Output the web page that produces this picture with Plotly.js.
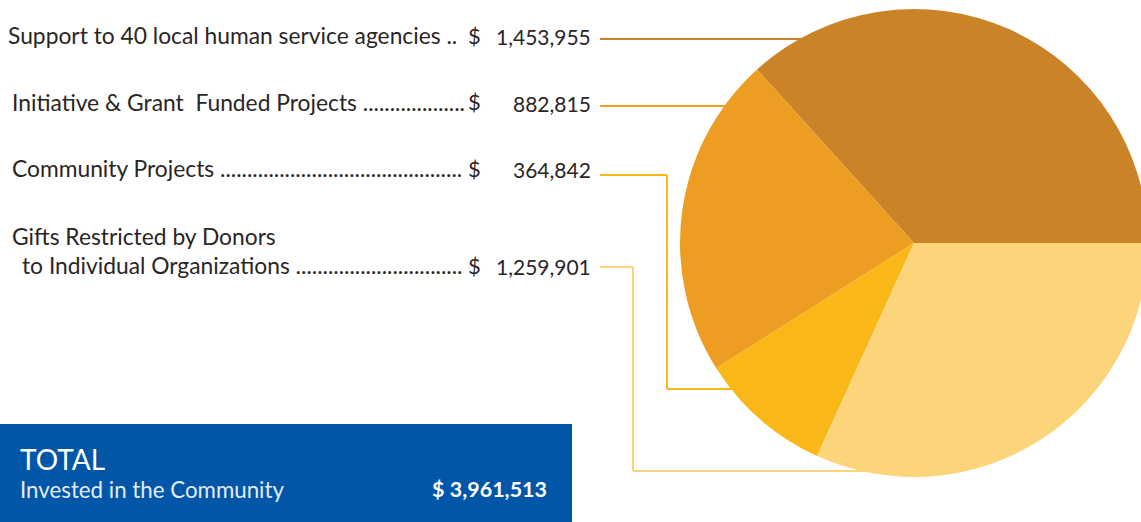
<!DOCTYPE html>
<html>
<head>
<meta charset="utf-8">
<script src="https://cdn.plot.ly/plotly-3.0.1.min.js"></script>
<style>
html,body{margin:0;padding:0;overflow:hidden;background:#fff;width:1141px;height:522px;}
#chart{width:1160px;height:522px;}
</style>
</head>
<body>
<div id="chart"></div>
<script>
// ---- data ----
var categories = [
  "Support to 40 local human service agencies",
  "Initiative & Grant  Funded Projects",
  "Community Projects",
  "Gifts Restricted by Donors|to Individual Organizations"
];
var amounts = [1453955, 882815, 364842, 1259901];
var amountLabels = ["1,453,955", "882,815", "364,842", "1,259,901"];
var totalLabel = "$ 3,961,513";
var sliceColors = ["#CB8327", "#EC9D22", "#F9B718", "#FCD57B"];

// ---- geometry helpers (pixel -> paper) ----
var W = 1160, H = 522;
function fx(p){ return p / W; }
function fy(p){ return 1 - p / H; }

var LABEL_FONT = "Lato";
var LABEL_SIZE = 22.8;
var ctx = document.createElement("canvas").getContext("2d");
ctx.font = LABEL_SIZE + "px " + LABEL_FONT;
function leader(text, startX, endX){
  var s = text + " ";
  var w = ctx.measureText(s).width;
  var dw = ctx.measureText(".").width;
  var n = Math.max(2, Math.floor((endX - startX - w) / dw));
  return s + ".".repeat(n);
}

var total = amounts.reduce(function(a,b){return a+b;},0);

var data = [{
  type: "pie",
  values: amounts,
  labels: categories,
  sort: false,
  direction: "counterclockwise",
  rotation: 90 - 360 * amounts[0] / total,
  textinfo: "none",
  hoverinfo: "label+value",
  marker: {colors: sliceColors, line: {width: 0}},
  showlegend: false,
  domain: {x: [fx(680), fx(1148)], y: [fy(477), fy(9)]}
}];

var textColor = "#2a2526";
var rowY = [35, 102, 168, 265];
var lineY = [39, 106, 175, 267];
var ann = [];
var dotEnd = 463;
ann.push({text: categories[0] + " ..", x: fx(6), y: fy(rowY[0])});
ann.push({text: leader(categories[1], 10, dotEnd), x: fx(10), y: fy(rowY[1])});
ann.push({text: leader(categories[2], 10, dotEnd), x: fx(10), y: fy(rowY[2])});
var g = categories[3].split("|");
ann.push({text: g[0], x: fx(10), y: fy(236)});
ann.push({text: leader(g[1], 20, dotEnd), x: fx(20), y: fy(rowY[3])});
ann = ann.map(function(a){
  return Object.assign({xref:"paper", yref:"paper", xanchor:"left", yanchor:"middle", showarrow:false,
    font:{family:LABEL_FONT, size:LABEL_SIZE, color:textColor}}, a);
});
for (var i = 0; i < 4; i++){
  ann.push({text:"$", x: fx(474), y: fy(rowY[i]), xref:"paper", yref:"paper", xanchor:"center", yanchor:"middle",
    showarrow:false, font:{family:LABEL_FONT, size:22, color:textColor}});
  ann.push({text: amountLabels[i], x: fx(593), y: fy(rowY[i] + 1), xref:"paper", yref:"paper", xanchor:"right", yanchor:"middle",
    showarrow:false, font:{family:LABEL_FONT, size:21, color:textColor}});
}
// total box texts
ann.push({text:"TOTAL", x: fx(18), y: fy(459), xref:"paper", yref:"paper", xanchor:"left", yanchor:"middle",
  showarrow:false, font:{family:"Lato", size:28, color:"#ffffff"}});
ann.push({text:"Invested in the Community", x: fx(18), y: fy(489), xref:"paper", yref:"paper", xanchor:"left", yanchor:"middle",
  showarrow:false, font:{family:"Lato", size:22.3, color:"#e4ebf5"}});
ann.push({text:"<b>" + totalLabel + "</b>", x: fx(549), y: fy(489), xref:"paper", yref:"paper", xanchor:"right", yanchor:"middle",
  showarrow:false, font:{family:"Lato", size:21.5, color:"#ffffff"}});

var shapes = [];
function seg(x0,y0,x1,y1,color){
  shapes.push({type:"line", xref:"paper", yref:"paper", layer:"below",
    x0:fx(x0), y0:fy(y0), x1:fx(x1), y1:fy(y1), line:{color:color, width:2}});
}
shapes.push({type:"rect", xref:"paper", yref:"paper", layer:"below",
  x0:fx(0), x1:fx(572), y0:fy(424), y1:fy(524), fillcolor:"#0256A7", line:{width:0}});
seg(600, lineY[0], 830, lineY[0], sliceColors[0]);
seg(600, lineY[1], 740, lineY[1], sliceColors[1]);
seg(600, lineY[2], 667, lineY[2], sliceColors[2]);
seg(667, lineY[2], 667, 389, sliceColors[2]);
seg(667, 389, 750, 389, sliceColors[2]);
seg(600, lineY[3], 633, lineY[3], sliceColors[3]);
seg(633, lineY[3], 633, 471, sliceColors[3]);
seg(633, 471, 900, 471, sliceColors[3]);

var layout = {
  width: W, height: H,
  margin: {l:0, r:0, t:0, b:0, pad:0},
  paper_bgcolor: "#ffffff",
  plot_bgcolor: "#ffffff",
  showlegend: false,
  annotations: ann,
  shapes: shapes
};
Plotly.newPlot("chart", data, layout, {displayModeBar:false, staticPlot:true});
</script>
</body>
</html>
